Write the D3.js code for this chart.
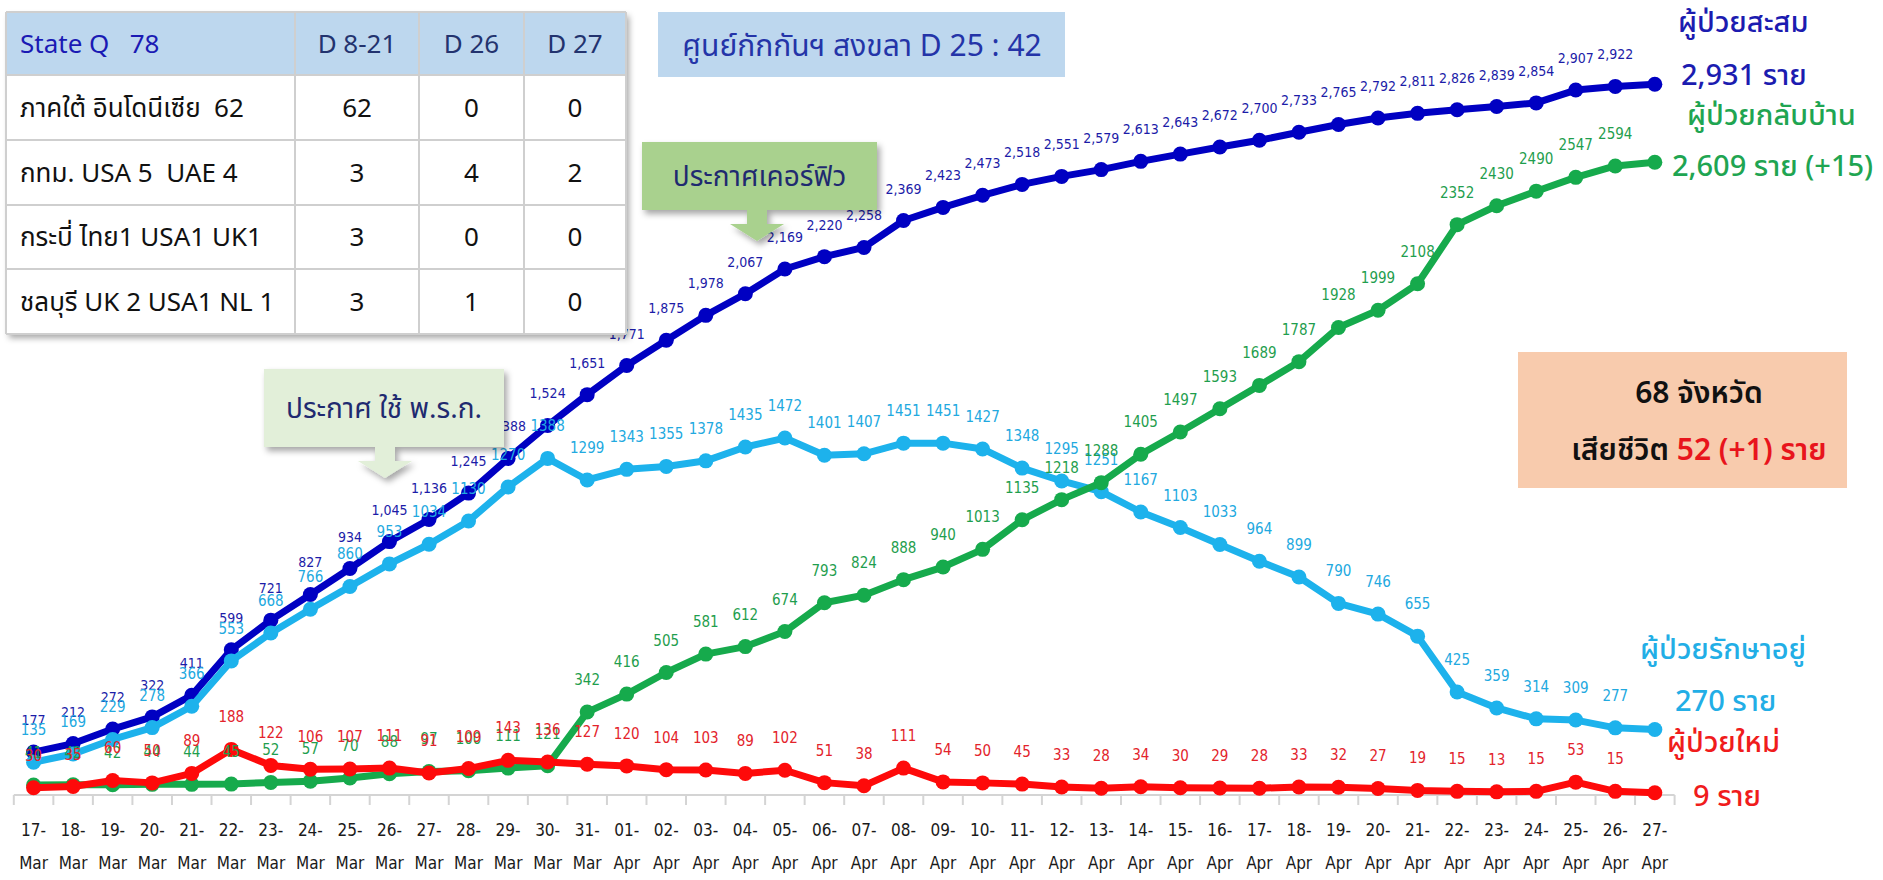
<!DOCTYPE html>
<html lang="th">
<head>
    <meta charset="UTF-8">
    <title>COVID-19 Thailand 27 Apr</title>
    <script src="https://cdn.jsdelivr.net/npm/d3@7"></script>
    <style>
        body { margin: 0; background: #fff; }
        svg { display: block; font-family: "Noto Sans Thai", "Noto Sans", "DejaVu Sans", sans-serif; }
        .num { font-family: "DejaVu Sans Condensed", "DejaVu Sans", sans-serif; }
    </style>
</head>
<body>
<script>

    const dates = ['17-Mar', '18-Mar', '19-Mar', '20-Mar', '21-Mar', '22-Mar', '23-Mar', '24-Mar', '25-Mar', '26-Mar',
        '27-Mar', '28-Mar', '29-Mar', '30-Mar', '31-Mar', '01-Apr', '02-Apr', '03-Apr', '04-Apr', '05-Apr', '06-Apr',
        '07-Apr', '08-Apr', '09-Apr', '10-Apr', '11-Apr', '12-Apr', '13-Apr', '14-Apr', '15-Apr', '16-Apr', '17-Apr',
        '18-Apr', '19-Apr', '20-Apr', '21-Apr', '22-Apr', '23-Apr', '24-Apr', '25-Apr', '26-Apr', '27-Apr']

    const cumulative = [177, 212, 272, 322, 411, 599, 721, 827, 934, 1045, 1136, 1245, 1388, 1524, 1651,
        1771, 1875, 1978, 2067, 2169, 2220, 2258, 2369, 2423, 2473, 2518, 2551, 2579, 2613, 2643, 2672, 2700,
        2733, 2765, 2792, 2811, 2826, 2839, 2854, 2907, 2922, 2931]

    const active = [135, 169, 229, 278, 366, 553, 668, 766, 860, 953, 1034, 1130, 1270, 1388, 1299,
        1343, 1355, 1378, 1435, 1472, 1401, 1407, 1451, 1451, 1427, 1348, 1295, 1251, 1167, 1103, 1033, 964,
        899, 790, 746, 655, 425, 359, 314, 309, 277, 270]

    const recovered = [41, 42, 42, 44, 44, 45, 52, 57, 70, 88, 97, 100, 111, 121, 342,
        416, 505, 581, 612, 674, 793, 824, 888, 940, 1013, 1135, 1218, 1288, 1405, 1497, 1593, 1689,
        1787, 1928, 1999, 2108, 2352, 2430, 2490, 2547, 2594, 2609]

    const newCases = [30, 35, 60, 50, 89, 188, 122, 106, 107, 111, 91, 109, 143, 136, 127,
        120, 104, 103, 89, 102, 51, 38, 111, 54, 50, 45, 33, 28, 34, 30, 29, 28,
        33, 32, 27, 19, 15, 13, 15, 53, 15, 9]

    const tableHeader = ['State Q   78', 'D 8-21', 'D 26', 'D 27']
    const tableRows = [
        ['ภาคใต้ อินโดนีเซีย  62', '62', '0', '0'],
        ['กทม. USA 5  UAE 4', '3', '4', '2'],
        ['กระบี่ ไทย1 USA1 UK1', '3', '0', '0'],
        ['ชลบุรี UK 2 USA1 NL 1', '3', '1', '0']
    ]

    const width = 1883
    const height = 880

    const x = d3.scaleBand()
        .domain(dates)
        .range([13.8, 1674.6])
        .padding(0)

    const y = d3.scaleLinear()
        .domain([0, 3000])
        .range([795, 67.5])

    const cx = (d) => x(d) + x.bandwidth() / 2

    const svg = d3.select('body')
        .append('svg')
        .attr('width', width)
        .attr('height', height)

    const defs = svg.append('defs')
    defs.append('filter')
        .attr('id', 'shadow')
        .attr('x', '-10%').attr('y', '-10%')
        .attr('width', '130%').attr('height', '140%')
        .append('feDropShadow')
        .attr('dx', 3).attr('dy', 4)
        .attr('stdDeviation', 3)
        .attr('flood-color', '#000')
        .attr('flood-opacity', 0.35)

    svg.append('rect')
        .attr('width', width)
        .attr('height', height)
        .attr('fill', '#fff')

    // x axis: line, boundary ticks and two-line date labels
    const axis = svg.append('g')
    const axisEnds = x.range()
    axis.append('line')
        .attr('x1', axisEnds[0]).attr('x2', axisEnds[1])
        .attr('y1', y(0)).attr('y2', y(0))
        .attr('stroke', '#d4d4d4')
        .attr('stroke-width', 2)

    axis.selectAll('.tick-mark')
        .data(dates.map((d) => x(d)).concat([axisEnds[1]]))
        .enter()
        .append('line')
        .attr('class', 'tick-mark')
        .attr('x1', (d) => d).attr('x2', (d) => d)
        .attr('y1', y(0)).attr('y2', y(0) + 10)
        .attr('stroke', '#d4d4d4')
        .attr('stroke-width', 2)

    const tickText = axis.selectAll('.tick-text')
        .data(dates)
        .enter()
        .append('text')
        .attr('class', 'tick-text num')
        .attr('text-anchor', 'middle')
        .attr('font-size', 17)
        .attr('fill', '#1a1a1a')

    tickText.append('tspan')
        .attr('x', cx)
        .attr('y', 836)
        .text((d) => d.split('-')[0] + '-')

    tickText.append('tspan')
        .attr('x', cx)
        .attr('y', 869)
        .text((d) => d.split('-')[1])

    const series = [
        { values: cumulative, line: '#0000c2', label: '#1c1ca8', size: 14, fmt: d3.format(',') },
        { values: active, line: '#1db2ec', label: '#22a9df', size: 15, fmt: d3.format('d') },
        { values: recovered, line: '#16aa4c', label: '#1f9e4e', size: 15, fmt: d3.format('d') },
        { values: newCases, line: '#fe0a0a', label: '#e3232b', size: 15, fmt: d3.format('d') }
    ]

    const line = d3.line()
        .x((d, i) => cx(dates[i]))
        .y((d) => y(d))

    series.forEach((s) => {
        const g = svg.append('g')
        g.append('path')
            .datum(s.values)
            .attr('d', line)
            .attr('fill', 'none')
            .attr('stroke', s.line)
            .attr('stroke-width', 7)
            .attr('stroke-linejoin', 'round')

        g.selectAll('circle')
            .data(s.values)
            .enter()
            .append('circle')
            .attr('cx', (d, i) => cx(dates[i]))
            .attr('cy', (d) => y(d))
            .attr('r', 7.5)
            .attr('fill', s.line)
    })

    // value labels; the last day is given by the names on the right instead
    const last = dates.length - 1
    series.forEach((s) => {
        svg.append('g')
            .selectAll('text')
            .data(s.values.slice(0, last))
            .enter()
            .append('text')
            .attr('class', 'num')
            .attr('x', (d, i) => cx(dates[i]))
            .attr('y', (d) => y(d) - 27)
            .attr('text-anchor', 'middle')
            .attr('font-size', s.size)
            .attr('fill', s.label)
            .text((d) => s.fmt(d))
    })

    // series names at the right end
    const rightLabels = [
        { text: 'ผู้ป่วยสะสม', x: 1678, y: 32, color: '#1c1cb0' },
        { text: '2,931 ราย', x: 1681, y: 85, color: '#1c1cb0' },
        { text: 'ผู้ป่วยกลับบ้าน', x: 1687, y: 125, color: '#1fa552' },
        { text: '2,609 ราย (+15)', x: 1672, y: 176, color: '#1fa552' },
        { text: 'ผู้ป่วยรักษาอยู่', x: 1640, y: 659, color: '#22aee6' },
        { text: '270 ราย', x: 1675, y: 711, color: '#22aee6' },
        { text: 'ผู้ป่วยใหม่', x: 1667, y: 752, color: '#f01c1c' },
        { text: '9 ราย', x: 1693, y: 806, color: '#f01c1c' }
    ]
    svg.append('g')
        .selectAll('text')
        .data(rightLabels)
        .enter()
        .append('text')
        .attr('x', (d) => d.x)
        .attr('y', (d) => d.y)
        .attr('font-size', 29)
        .attr('font-weight', 500)
        .attr('fill', (d) => d.color)
        .text((d) => d.text)

    // callouts with down arrows
    function callout(x0, y0, w, h, fill, text, arrowX) {
        const g = svg.append('g').attr('filter', 'url(#shadow)')
        g.append('path')
            .attr('d', `M${x0},${y0} h${w} v${h} H${arrowX + 10} v14 h17 l-27,17 l-27,-17 h17 v-14 H${x0} Z`)
            .attr('fill', fill)
        svg.append('text')
            .attr('x', x0 + w / 2)
            .attr('y', y0 + h / 2 + 10)
            .attr('text-anchor', 'middle')
            .attr('font-size', 28)
            .attr('fill', '#1f2a70')
            .text(text)
    }
    callout(642, 142, 235, 68, '#a9d18e', 'ประกาศเคอร์ฟิว', 757)
    callout(264, 369, 240, 78, '#e2efd9', 'ประกาศ ใช้ พ.ร.ก.', 385)

    // quarantine box
    svg.append('rect')
        .attr('x', 658).attr('y', 12)
        .attr('width', 407).attr('height', 65)
        .attr('fill', '#bdd7ee')
    svg.append('text')
        .attr('x', 862).attr('y', 56)
        .attr('text-anchor', 'middle')
        .attr('font-size', 30)
        .attr('fill', '#2434a8')
        .text('ศูนย์กักกันฯ สงขลา D 25 : 42')

    // provinces and deaths box
    svg.append('rect')
        .attr('x', 1518).attr('y', 352)
        .attr('width', 329).attr('height', 136)
        .attr('fill', '#f8cbad')
    svg.append('text')
        .attr('x', 1699).attr('y', 403)
        .attr('text-anchor', 'middle')
        .attr('font-size', 30)
        .attr('font-weight', 600)
        .attr('fill', '#111')
        .text('68 จังหวัด')
    const death = svg.append('text')
        .attr('x', 1699).attr('y', 460)
        .attr('text-anchor', 'middle')
        .attr('font-size', 30)
        .attr('font-weight', 600)
        .attr('fill', '#111')
    death.append('tspan').text('เสียชีวิต ')
    death.append('tspan').attr('fill', '#e8141c').text('52 (+1) ราย')

    // imported cases table
    const colEdges = [6, 295, 419, 524, 626]
    const rowEdges = [12, 75, 140, 205, 269, 334]
    const table = svg.append('g')

    table.append('rect')
        .attr('x', colEdges[0]).attr('y', rowEdges[0])
        .attr('width', colEdges[4] - colEdges[0])
        .attr('height', rowEdges[5] - rowEdges[0])
        .attr('fill', '#fff')
        .attr('filter', 'url(#shadow)')

    table.append('rect')
        .attr('x', colEdges[0]).attr('y', rowEdges[0])
        .attr('width', colEdges[4] - colEdges[0])
        .attr('height', rowEdges[1] - rowEdges[0])
        .attr('fill', '#bdd7ee')

    rowEdges.forEach((r) => {
        table.append('line')
            .attr('x1', colEdges[0]).attr('x2', colEdges[4])
            .attr('y1', r).attr('y2', r)
            .attr('stroke', '#cfcfcf').attr('stroke-width', 2)
    })
    colEdges.forEach((c) => {
        table.append('line')
            .attr('x1', c).attr('x2', c)
            .attr('y1', rowEdges[0]).attr('y2', rowEdges[5])
            .attr('stroke', '#cfcfcf').attr('stroke-width', 2)
    })

    const allRows = [tableHeader].concat(tableRows)
    allRows.forEach((row, ri) => {
        row.forEach((cell, ci) => {
            const left = ci === 0
            table.append('text')
                .attr('x', left ? colEdges[0] + 14 : (colEdges[ci] + colEdges[ci + 1]) / 2)
                .attr('y', (rowEdges[ri] + rowEdges[ri + 1]) / 2 + 9)
                .attr('text-anchor', left ? 'start' : 'middle')
                .attr('font-size', 26)
                .attr('fill', ri === 0 ? (left ? '#1a1ab4' : '#23336e') : '#111')
                .style('white-space', 'pre')
                .text(cell)
        })
    })

</script>
</body>
</html>
